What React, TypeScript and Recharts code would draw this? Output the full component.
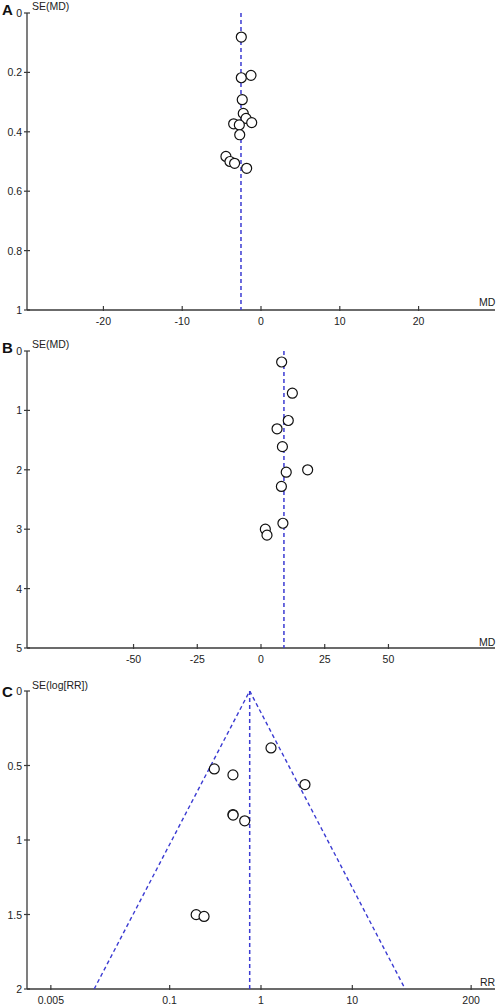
import React from "react";
import { ScatterChart, Scatter, XAxis, YAxis } from "recharts";

// Panel A: mean difference vs SE
const studiesA = [
  { md: -2.5, se: 0.081 },
  { md: -2.5, se: 0.218 },
  { md: -1.27, se: 0.21 },
  { md: -2.38, se: 0.292 },
  { md: -2.25, se: 0.338 },
  { md: -1.9, se: 0.355 },
  { md: -1.18, se: 0.369 },
  { md: -3.47, se: 0.373 },
  { md: -2.75, se: 0.377 },
  { md: -2.7, se: 0.41 },
  { md: -4.45, se: 0.483 },
  { md: -3.94, se: 0.5 },
  { md: -3.35, se: 0.506 },
  { md: -1.82, se: 0.523 },
];
const pooledA = [
  { md: -2.54, se: 0 },
  { md: -2.54, se: 1 },
];
const xTicksA = [-20, -10, 0, 10, 20];
const yTicksA = [0, 0.2, 0.4, 0.6, 0.8, 1];

// Panel B
const studiesB = [
  { md: 8.1, se: 0.185 },
  { md: 12.3, se: 0.71 },
  { md: 10.7, se: 1.17 },
  { md: 6.3, se: 1.31 },
  { md: 8.4, se: 1.61 },
  { md: 18.3, se: 2.0 },
  { md: 9.9, se: 2.04 },
  { md: 8.0, se: 2.28 },
  { md: 8.6, se: 2.9 },
  { md: 1.7, se: 3.0 },
  { md: 2.35, se: 3.1 },
];
const pooledB = [
  { md: 9.0, se: 0 },
  { md: 9.0, se: 5 },
];
const xTicksB = [-50, -25, 0, 25, 50];
const yTicksB = [0, 1, 2, 3, 4, 5];

// Panel C: risk ratio (log axis)
const studiesC = [
  { rr: 1.287, se: 0.382 },
  { rr: 0.308, se: 0.523 },
  { rr: 0.493, se: 0.563 },
  { rr: 3.03, se: 0.628 },
  { rr: 0.493, se: 0.829 },
  { rr: 0.495, se: 0.833 },
  { rr: 0.663, se: 0.871 },
  { rr: 0.195, se: 1.501 },
  { rr: 0.238, se: 1.513 },
];
const pooledC = [
  { rr: 0.752, se: 0 },
  { rr: 0.752, se: 2 },
];
const funnelC = [
  { rr: 0.0149, se: 2 },
  { rr: 0.752, se: 0 },
  { rr: 37.9, se: 2 },
];
const xTicksC = [0.005, 0.1, 1, 10, 200];
const yTicksC = [0, 0.5, 1, 1.5, 2];

const FONT = "'Liberation Sans', Arial, sans-serif";
const AXIS = "#3a3a3a";
const DASH = "#3b3bd2";

const YTick = (props: any) => {
  const { x, y, payload } = props;
  return (
    <g>
      <line x1={x - 3} x2={x + 3} y1={y} y2={y} stroke={AXIS} strokeWidth={1.2} />
      <text x={x - 5} y={y} textAnchor="end" dominantBaseline="central" fontSize={10.5} fontFamily={FONT} fill="#222">
        {payload.value}
      </text>
    </g>
  );
};

const XTick = (props: any) => {
  const { x, y, payload } = props;
  return (
    <g>
      <line x1={x} x2={x} y1={y - 4} y2={y + 1} stroke={AXIS} strokeWidth={1.2} />
      <text x={x} y={y + 11} textAnchor="middle" dominantBaseline="central" fontSize={10.5} fontFamily={FONT} fill="#222">
        {payload.value}
      </text>
    </g>
  );
};

const Dot = (props: any) => {
  const { cx, cy } = props;
  if (cx == null || cy == null) return <g />;
  return <circle cx={cx} cy={cy} r={5} fill="#fff" stroke="#111" strokeWidth={1.2} />;
};

const NoDot = () => <g />;

const labelStyle: React.CSSProperties = {
  position: "absolute",
  fontFamily: FONT,
  fontSize: 10.5,
  color: "#222",
  lineHeight: 1,
  whiteSpace: "nowrap",
};
const letterStyle: React.CSSProperties = {
  position: "absolute",
  fontFamily: FONT,
  fontSize: 15,
  fontWeight: "bold",
  color: "#111",
  lineHeight: 1,
};

export default function App() {
  return (
    <div style={{ position: "absolute", left: 0, top: 0, width: 498, height: 1005, background: "#fff", overflow: "hidden" }}>
      {/* A */}
      <div style={{ position: "absolute", left: 0, top: 0 }}>
        <ScatterChart width={498} height={330} margin={{ top: 13, right: 3, left: 0, bottom: 0 }}>
          <XAxis
            type="number"
            dataKey="md"
            domain={[-29.7, 29.7]}
            ticks={xTicksA}
            tick={<XTick />}
            tickLine={false}
            tickSize={0}
            tickMargin={0}
            height={20}
            axisLine={{ stroke: AXIS, strokeWidth: 1.3 }}
            allowDataOverflow
          />
          <YAxis
            type="number"
            dataKey="se"
            domain={[0, 1]}
            reversed
            ticks={yTicksA}
            tick={<YTick />}
            tickLine={false}
            tickSize={0}
            tickMargin={0}
            width={27}
            axisLine={{ stroke: AXIS, strokeWidth: 1.3 }}
            allowDataOverflow
          />
          <Scatter data={pooledA} line={{ stroke: DASH, strokeWidth: 1.5, strokeDasharray: "4 3" }} shape={NoDot} isAnimationActive={false} />
          <Scatter data={studiesA} shape={<Dot />} isAnimationActive={false} />
        </ScatterChart>
        <div style={{ ...letterStyle, left: 2, top: 2 }}>A</div>
        <div style={{ ...labelStyle, left: 32, top: 1 }}>SE(MD)</div>
        <div style={{ ...labelStyle, left: 479, top: 297 }}>MD</div>
      </div>

      {/* B */}
      <div style={{ position: "absolute", left: 0, top: 330 }}>
        <ScatterChart width={498} height={338} margin={{ top: 21, right: 3, left: 0, bottom: 0 }}>
          <XAxis
            type="number"
            dataKey="md"
            domain={[-91.8, 91.8]}
            ticks={xTicksB}
            tick={<XTick />}
            tickLine={false}
            tickSize={0}
            tickMargin={0}
            height={20}
            axisLine={{ stroke: AXIS, strokeWidth: 1.3 }}
            allowDataOverflow
          />
          <YAxis
            type="number"
            dataKey="se"
            domain={[0, 5]}
            reversed
            ticks={yTicksB}
            tick={<YTick />}
            tickLine={false}
            tickSize={0}
            tickMargin={0}
            width={27}
            axisLine={{ stroke: AXIS, strokeWidth: 1.3 }}
            allowDataOverflow
          />
          <Scatter data={pooledB} line={{ stroke: DASH, strokeWidth: 1.5, strokeDasharray: "4 3" }} shape={NoDot} isAnimationActive={false} />
          <Scatter data={studiesB} shape={<Dot />} isAnimationActive={false} />
        </ScatterChart>
        <div style={{ ...letterStyle, left: 2, top: 10 }}>B</div>
        <div style={{ ...labelStyle, left: 32, top: 9 }}>SE(MD)</div>
        <div style={{ ...labelStyle, left: 479, top: 307 }}>MD</div>
      </div>

      {/* C */}
      <div style={{ position: "absolute", left: 0, top: 670 }}>
        <ScatterChart width={498} height={339} margin={{ top: 21, right: 3, left: 0, bottom: 0 }}>
          <XAxis
            type="number"
            dataKey="rr"
            scale="log"
            domain={[0.00274, 365]}
            ticks={xTicksC}
            tick={<XTick />}
            tickLine={false}
            tickSize={0}
            tickMargin={0}
            height={20}
            axisLine={{ stroke: AXIS, strokeWidth: 1.3 }}
            allowDataOverflow
          />
          <YAxis
            type="number"
            dataKey="se"
            domain={[0, 2]}
            reversed
            ticks={yTicksC}
            tick={<YTick />}
            tickLine={false}
            tickSize={0}
            tickMargin={0}
            width={27}
            axisLine={{ stroke: AXIS, strokeWidth: 1.3 }}
            allowDataOverflow
          />
          <Scatter data={funnelC} line={{ stroke: DASH, strokeWidth: 1.4, strokeDasharray: "4 3" }} shape={NoDot} isAnimationActive={false} />
          <Scatter data={pooledC} line={{ stroke: DASH, strokeWidth: 1.5, strokeDasharray: "4 3" }} shape={NoDot} isAnimationActive={false} />
          <Scatter data={studiesC} shape={<Dot />} isAnimationActive={false} />
        </ScatterChart>
        <div style={{ ...letterStyle, left: 2, top: 14 }}>C</div>
        <div style={{ ...labelStyle, left: 32, top: 10 }}>SE(log[RR])</div>
        <div style={{ ...labelStyle, left: 480, top: 307 }}>RR</div>
      </div>
    </div>
  );
}
